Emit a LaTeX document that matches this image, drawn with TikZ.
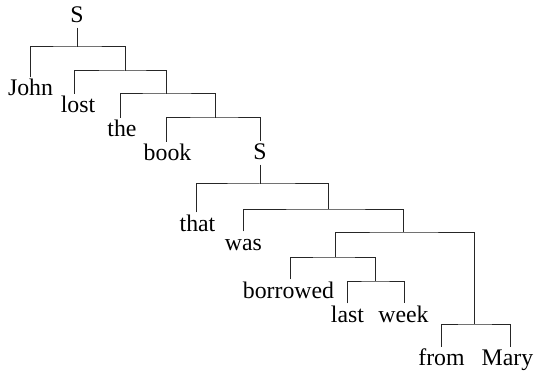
\documentclass[tikz,border=0pt]{standalone}
\usepackage{fontspec}
\setmainfont{Liberation Serif}
\begin{document}
\begin{tikzpicture}[x=1pt,y=-1pt,
  word/.style={anchor=base,inner xsep=0pt,inner ysep=4.5pt,text height=14pt,text depth=0pt,
    font=\fontsize{23.8}{28}\selectfont},
  br/.style={line width=1pt,black!85}]
\useasboundingbox (0,0) rectangle (535,374);
% words
\node[word] (S) at (77,23) {S};
\node[word] (John) at (30.5,96) {John};
\node[word] (lost) at (78,112.5) {lost};
\node[word] (the) at (122,136.5) {the};
\node[word] (book) at (167.5,160.5) {book};
\node[word] (S2) at (260,160) {S};
\node[word] (that) at (197.5,231) {that};
\node[word] (was) at (243.5,250) {was};
\node[word] (borrowed) at (288.5,298) {borrowed};
\node[word] (last) at (347.5,322) {last};
\node[word] (week) at (403.5,322) {week};
\node[word] (from) at (441.5,365.5) {from};
\node[word] (Mary) at (507.5,365.5) {Mary};
% internal points
\coordinate (b0) at (77,47);
\coordinate (VP1) at (125,71);
\coordinate (NP1) at (166,94);
\coordinate (N1) at (215,118);
\coordinate (b1) at (260,184);
\coordinate (VP2) at (328,209);
\coordinate (VP3) at (403,232);
\coordinate (VP4) at (335,257);
\coordinate (NP2) at (375,281);
\coordinate (PP) at (474,324);
% branches
\draw[br] (S.south) -- (b0);
\draw[br] (John.north) |- (b0) -| (VP1);
\draw[br] ([xshift=-4pt]lost.north) |- (VP1) -| (NP1);
\draw[br] ([xshift=-2pt]the.north) |- (NP1) -| (N1);
\draw[br] ([xshift=-1.5pt]book.north) |- (N1) -| (S2.north);
\draw[br] (S2.south) -- (b1);
\draw[br] ([xshift=-1.5pt]that.north) |- (b1) -| (VP2);
\draw[br] (was.north) |- (VP2) -| (VP3);
\draw[br] (VP4) |- (VP3) -| (PP);
\draw[br] ([xshift=1.5pt]borrowed.north) |- (VP4) -| (NP2);
\draw[br] ([xshift=-0.5pt]last.north) |- (NP2) -| ([xshift=1pt]week.north);
\draw[br] (from.north) |- (PP) -| ([xshift=3pt]Mary.north);
\end{tikzpicture}
\end{document}
